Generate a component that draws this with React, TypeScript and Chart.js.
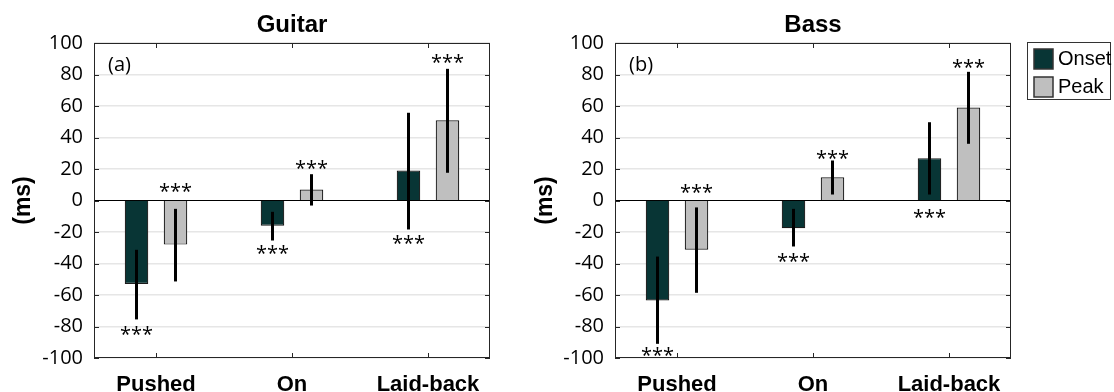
import React, { useEffect, useRef } from 'react';
import { Chart, registerables } from 'chart.js';

Chart.register(...registerables);

// ---------- data ----------
const categories = ['Pushed', 'On', 'Laid-back'];
const seriesNames = ['Onset', 'Peak'];
const yTickValues = [-100, -80, -60, -40, -20, 0, 20, 40, 60, 80, 100];

const guitarOnset = [-53, -16, 19];
const guitarOnsetErrLow = [-75.5, -25.4, -18.4];
const guitarOnsetErrHigh = [-31.3, -7.2, 55.7];
const guitarOnsetStarAt = [-82.5, -31, -24.5];

const guitarPeak = [-28, 7, 51];
const guitarPeakErrLow = [-51.4, -3.2, 17.6];
const guitarPeakErrHigh = [-5.3, 16.7, 83.6];
const guitarPeakStarAt = [8.5, 23, 90.6];

const bassOnset = [-63.5, -17.6, 26.9];
const bassOnsetErrLow = [-91, -29.2, 3.8];
const bassOnsetErrHigh = [-35.6, -5.3, 49.7];
const bassOnsetStarAt = [-95.7, -35.6, -8];

const bassPeak = [-31.3, 14.8, 59];
const bassPeakErrLow = [-58.6, 3.8, 36];
const bassPeakErrHigh = [-4.4, 25.4, 81.7];
const bassPeakStarAt = [7.8, 29.8, 87.6];

const starText = '***';

// ---------- styles ----------
const ONSET_COLOR = '#083535';
const PEAK_COLOR = '#bfbfbf';
const FONT = "'Open Sans', 'DejaVu Sans', sans-serif";
const BOLD_FONT = "'Liberation Sans', Arial, sans-serif";

const overlayPlugin = {
  id: 'overlay',
  afterDatasetsDraw(chart: any, _args: any, opts: any) {
    const { ctx, chartArea: a, scales } = chart;
    const ys = scales.y;
    const xs = scales.x;
    ctx.save();
    // error bars + stars
    chart.data.datasets.forEach((ds: any, di: number) => {
      const meta = chart.getDatasetMeta(di);
      meta.data.forEach((bar: any, i: number) => {
        const x = bar.x;
        ctx.strokeStyle = '#000';
        ctx.lineWidth = 3;
        ctx.beginPath();
        ctx.moveTo(x, ys.getPixelForValue(ds.errLow[i]));
        ctx.lineTo(x, ys.getPixelForValue(ds.errHigh[i]));
        ctx.stroke();
        ctx.fillStyle = '#000';
        ctx.font = `20px ${FONT}`;
        ctx.textAlign = 'center';
        ctx.textBaseline = 'alphabetic';
        ctx.fillText(starText, x, ys.getPixelForValue(ds.starAt[i]) + 11);
      });
    });
    // box
    ctx.strokeStyle = '#262626';
    ctx.lineWidth = 1;
    ctx.strokeRect(a.left + 0.5, a.top + 0.5, a.right - a.left - 1, a.bottom - a.top - 1);
    // inward tick marks
    ctx.beginPath();
    yTickValues.forEach((v) => {
      const y = Math.round(ys.getPixelForValue(v)) + 0.5;
      ctx.moveTo(a.left, y);
      ctx.lineTo(a.left + 5, y);
      ctx.moveTo(a.right, y);
      ctx.lineTo(a.right - 5, y);
    });
    categories.forEach((_c, i) => {
      const x = Math.round(xs.getPixelForValue(i + 1)) + 0.5;
      ctx.moveTo(x, a.top);
      ctx.lineTo(x, a.top + 5);
      ctx.moveTo(x, a.bottom);
      ctx.lineTo(x, a.bottom - 5);
    });
    ctx.stroke();
    // panel tag
    ctx.fillStyle = '#000';
    ctx.font = `20px ${FONT}`;
    ctx.textAlign = 'left';
    ctx.textBaseline = 'middle';
    ctx.fillText(opts.tag, a.left + 14, a.top + 22);
    // legend
    if (opts.legend) {
      const bx = a.right + 16;
      const by = a.top - 1;
      ctx.strokeStyle = '#333';
      ctx.lineWidth = 1;
      ctx.strokeRect(bx + 0.5, by + 0.5, 83, 57);
      chart.data.datasets.forEach((ds: any, di: number) => {
        const sy = by + 7 + di * 28;
        ctx.fillStyle = ds.backgroundColor;
        ctx.fillRect(bx + 7, sy, 19, 20);
        ctx.strokeStyle = '#333';
        ctx.lineWidth = 1.5;
        ctx.strokeRect(bx + 7, sy, 19, 20);
        ctx.fillStyle = '#000';
        ctx.font = `20px ${BOLD_FONT.replace("'Liberation Sans'", "'Liberation Sans'")}`;
        ctx.textAlign = 'left';
        ctx.textBaseline = 'middle';
        ctx.fillText(ds.label, bx + 31, sy + 10);
      });
    }
    ctx.restore();
  },
};

type PanelProps = {
  left: number;
  width: number;
  yAxisWidth: number;
  padRight: number;
  yTitlePad: number;
  title: string;
  tag: string;
  legend: boolean;
  onset: number[];
  onsetLow: number[];
  onsetHigh: number[];
  onsetStar: number[];
  peak: number[];
  peakLow: number[];
  peakHigh: number[];
  peakStar: number[];
};

function Panel(p: PanelProps) {
  const ref = useRef<HTMLCanvasElement>(null);
  useEffect(() => {
    if (!ref.current) return;
    const toXY = (arr: number[]) => arr.map((v, i) => ({ x: i + 1, y: v }));
    const chart = new Chart(ref.current, {
      type: 'bar',
      data: {
        datasets: [
          {
            label: seriesNames[0],
            data: toXY(p.onset),
            backgroundColor: ONSET_COLOR,
            borderColor: '#1a1a1a',
            borderWidth: 1.2,
            errLow: p.onsetLow,
            errHigh: p.onsetHigh,
            starAt: p.onsetStar,
          } as any,
          {
            label: seriesNames[1],
            data: toXY(p.peak),
            backgroundColor: PEAK_COLOR,
            borderColor: '#1a1a1a',
            borderWidth: 1.2,
            errLow: p.peakLow,
            errHigh: p.peakHigh,
            starAt: p.peakStar,
          } as any,
        ],
      },
      options: {
        responsive: false,
        animation: false,
        devicePixelRatio: 1,
        layout: { padding: { left: 0, right: p.padRight, top: 0, bottom: 0 } },
        datasets: { bar: { categoryPercentage: 0.5735, barPercentage: 0.603 } },
        plugins: {
          legend: { display: false },
          tooltip: { enabled: false },
          title: {
            display: true,
            text: p.title,
            color: '#000',
            fullSize: false,
            font: { family: BOLD_FONT, size: 24, weight: 'bold', lineHeight: 1 },
            padding: { top: 13, bottom: 6 },
          },
          overlay: { tag: p.tag, legend: p.legend },
        } as any,
        scales: {
          x: {
            type: 'linear',
            min: 0.544,
            max: 3.456,
            offset: false,
            afterBuildTicks: (scale: any) => {
              scale.ticks = categories.map((_c, i) => ({ value: i + 1 }));
            },
            afterFit: (scale: any) => {
              scale.height = 34;
            },
            grid: { display: false },
            border: { display: false },
            ticks: {
              autoSkip: false,
              maxRotation: 0,
              padding: 6,
              color: '#000',
              font: { family: BOLD_FONT, size: 22, weight: 'bold' },
              callback: (v: any) => categories[Math.round(v) - 1] ?? '',
            },
          },
          y: {
            min: -100,
            max: 100,
            afterBuildTicks: (scale: any) => {
              scale.ticks = yTickValues.map((v) => ({ value: v }));
            },
            afterFit: (scale: any) => {
              scale.width = p.yAxisWidth;
            },
            grid: {
              drawTicks: false,
              color: (c: any) => (c.tick && c.tick.value === 0 ? '#000' : '#e6e6e6'),
              lineWidth: (c: any) => (c.tick && c.tick.value === 0 ? 1 : 1.5),
            },
            border: { display: false },
            ticks: {
              padding: 11,
              color: '#000',
              font: { family: FONT, size: 20 },
            },
            title: {
              display: true,
              text: '(ms)',
              color: '#000',
              font: { family: BOLD_FONT, size: 23, weight: 'bold' },
              padding: { top: p.yTitlePad, bottom: 0 },
            },
          },
        },
      } as any,
      plugins: [overlayPlugin],
    });
    return () => chart.destroy();
  }, []);
  return (
    <canvas
      ref={ref}
      width={p.width}
      height={392}
      style={{ position: 'absolute', left: p.left, top: 0, width: p.width, height: 392 }}
    />
  );
}

export default function App() {
  return (
    <div
      style={{
        position: 'absolute',
        left: 0,
        top: 0,
        width: 1114,
        height: 392,
        background: '#fff',
        overflow: 'hidden',
      }}
    >
      <Panel
        left={0}
        width={520}
        yAxisWidth={94}
        padRight={30}
        yTitlePad={10}
        title="Guitar"
        tag="(a)"
        legend={false}
        onset={guitarOnset}
        onsetLow={guitarOnsetErrLow}
        onsetHigh={guitarOnsetErrHigh}
        onsetStar={guitarOnsetStarAt}
        peak={guitarPeak}
        peakLow={guitarPeakErrLow}
        peakHigh={guitarPeakErrHigh}
        peakStar={guitarPeakStarAt}
      />
      <Panel
        left={520}
        width={594}
        yAxisWidth={95}
        padRight={103}
        yTitlePad={12}
        title="Bass"
        tag="(b)"
        legend={true}
        onset={bassOnset}
        onsetLow={bassOnsetErrLow}
        onsetHigh={bassOnsetErrHigh}
        onsetStar={bassOnsetStarAt}
        peak={bassPeak}
        peakLow={bassPeakErrLow}
        peakHigh={bassPeakErrHigh}
        peakStar={bassPeakStarAt}
      />
    </div>
  );
}
